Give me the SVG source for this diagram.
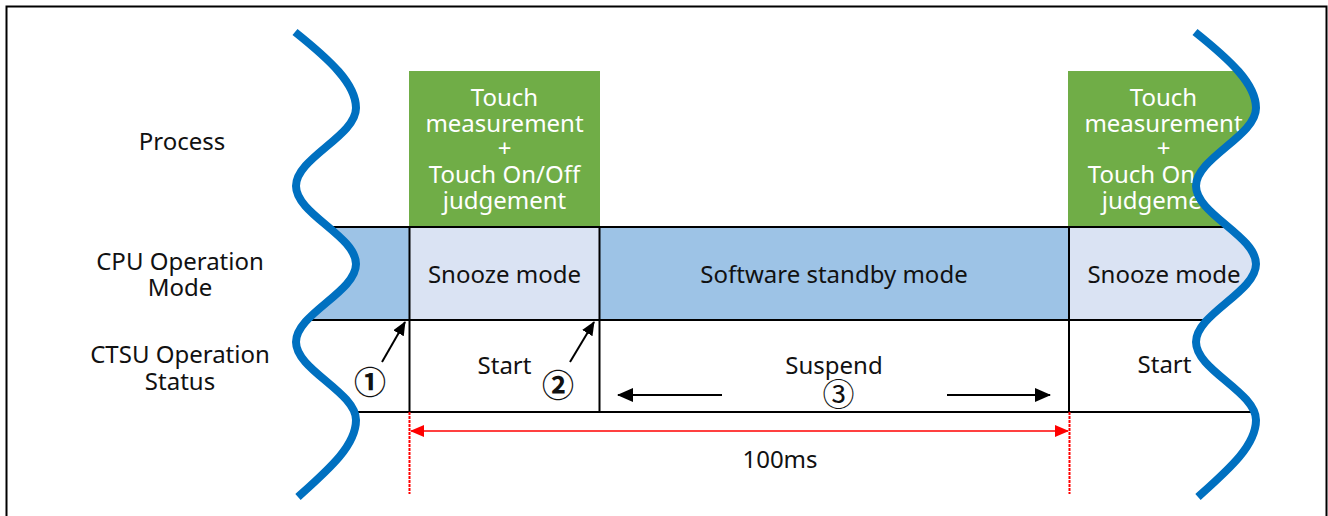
<svg xmlns="http://www.w3.org/2000/svg" width="1328" height="516" viewBox="0 0 1328 516">
  <style>
    text { font-family: "Noto Sans", "Noto Sans CJK JP", sans-serif; font-size: 24px; fill: #111; text-anchor: middle; }
    .wt { fill: #ffffff; }
    .num { font-family: "Noto Sans CJK JP", "Noto Sans", sans-serif; font-size: 32px; }
    .bold { font-weight: bold; }
    .grid { stroke: #000; stroke-width: 2; fill: none; }
    .arr { stroke: #000; stroke-width: 2; fill: none; }
    .dim { stroke: #ff0000; stroke-width: 1.3; fill: none; }
    .ext { stroke: #ff0000; stroke-width: 2; stroke-dasharray: 3 1; fill: none; }
    .wave { stroke: #0070c0; stroke-width: 8; fill: none; }
    .green { fill: #70ad47; }
    .standby { fill: #9dc3e6; }
    .snooze { fill: #dae3f3; }
  </style>
  <defs>
    <marker id="ah" markerUnits="userSpaceOnUse" markerWidth="14" markerHeight="12" refX="13" refY="6" orient="auto">
      <path d="M0,0 L14,6 L0,12 Z" fill="#000"/>
    </marker>
    <marker id="ahBig" markerUnits="userSpaceOnUse" markerWidth="16" markerHeight="14" refX="15" refY="7" orient="auto">
      <path d="M0,0 L16,7 L0,14 Z" fill="#000"/>
    </marker>
    <marker id="ahRed" markerUnits="userSpaceOnUse" markerWidth="14" markerHeight="12" refX="13" refY="6" orient="auto">
      <path d="M0,0 L14,6 L0,12 Z" fill="#ff0000"/>
    </marker>
    <!-- area to the right of the left break line -->
    <clipPath id="rightOfLeftBreak">
      <path d="M295,32 C330,60 356,84 356,108 C356,136 296,158 296,186 C296,214 356,236 356,264 C356,292 296,314 296,342 C296,370 356,392 356,420 C356,446 328,470 298,497 L298,516 L1328,516 L1328,0 L295,0 Z"/>
    </clipPath>
    <!-- area to the left of the right break line -->
    <clipPath id="leftOfRightBreak">
      <path d="M1195,32 C1230,60 1256,84 1256,108 C1256,136 1196,158 1196,186 C1196,214 1256,236 1256,264 C1256,292 1196,314 1196,342 C1196,370 1256,392 1256,420 C1256,446 1228,470 1198,497 L1198,516 L0,516 L0,0 L1195,0 Z"/>
    </clipPath>
  </defs>

  <rect width="1328" height="516" fill="#ffffff"/>
  <!-- outer frame -->
  <rect x="6.5" y="6.5" width="1320" height="530" fill="none" stroke="#000" stroke-width="2"/>

  <!-- row headings -->
  <g id="row-labels">
    <text x="182" y="150">Process</text>
    <text x="180" y="270">CPU Operation</text>
    <text x="180" y="296">Mode</text>
    <text x="180" y="363">CTSU Operation</text>
    <text x="180" y="390">Status</text>
  </g>

  <g clip-path="url(#rightOfLeftBreak)">
    <g clip-path="url(#leftOfRightBreak)">
      <!-- process row -->
      <g id="process-1">
        <rect class="green" x="409" y="71" width="191" height="156"/>
        <text class="wt" x="504.5" y="106">Touch</text>
        <text class="wt" x="504.5" y="131.5">measurement</text>
        <text class="wt" x="504.5" y="157">+</text>
        <text class="wt" x="504.5" y="183">Touch On/Off</text>
        <text class="wt" x="504.5" y="208.5">judgement</text>
      </g>
      <g id="process-2">
        <rect class="green" x="1068" y="71" width="191" height="156"/>
        <text class="wt" x="1163.5" y="106">Touch</text>
        <text class="wt" x="1163.5" y="131.5">measurement</text>
        <text class="wt" x="1163.5" y="157">+</text>
        <text class="wt" x="1163.5" y="183">Touch On/Off</text>
        <text class="wt" x="1163.5" y="208.5">judgement</text>
      </g>

      <!-- CPU operation mode row -->
      <g id="cpu-standby-0">
        <rect class="standby" x="250" y="227" width="159.5" height="93"/>
      </g>
      <g id="cpu-snooze-1">
        <rect class="snooze" x="409.5" y="227" width="190" height="93"/>
        <text x="504.5" y="283">Snooze mode</text>
      </g>
      <g id="cpu-standby-1">
        <rect class="standby" x="599.5" y="227" width="469.5" height="93"/>
        <text x="834" y="283">Software standby mode</text>
      </g>
      <g id="cpu-snooze-2">
        <rect class="snooze" x="1069" y="227" width="250" height="93"/>
        <text x="1164" y="283">Snooze mode</text>
      </g>

      <!-- CTSU operation status row -->
      <g id="ctsu-start-1">
        <text x="504.5" y="374">Start</text>
      </g>
      <g id="ctsu-suspend">
        <text x="834" y="374">Suspend</text>
        <text class="num" x="838.5" y="406">③</text>
      </g>
      <g id="ctsu-start-2">
        <text x="1164.5" y="373">Start</text>
      </g>

      <!-- cell borders -->
      <g id="grid">
        <path class="grid" d="M250,227 H1320 M250,320 H1320 M250,412 H1320 M409.5,227 V412 M599.5,227 V412 M1069,227 V412"/>
      </g>
    </g>
  </g>

  <!-- event markers -->
  <g id="event-1">
    <text class="num bold" x="370" y="393.5">①</text>
  </g>
  <g id="event-2">
    <text class="num bold" x="558" y="397">②</text>
  </g>

  <g id="connectors">
    <line class="arr" x1="382" y1="362" x2="405" y2="322" marker-end="url(#ah)"/>
    <line class="arr" x1="570" y1="362" x2="594" y2="322" marker-end="url(#ah)"/>
    <line class="arr" x1="722" y1="395" x2="618" y2="395" marker-end="url(#ahBig)"/>
    <line class="arr" x1="947" y1="395" x2="1050" y2="395" marker-end="url(#ahBig)"/>
    <!-- 100 ms interval dimension -->
    <line class="ext" x1="409.5" y1="412" x2="409.5" y2="494"/>
    <line class="ext" x1="1069.5" y1="412" x2="1069.5" y2="494"/>
    <line class="dim" x1="740" y1="431" x2="411" y2="431" marker-end="url(#ahRed)"/>
    <line class="dim" x1="740" y1="431" x2="1068" y2="431" marker-end="url(#ahRed)"/>
  </g>
  <g id="interval-label">
    <text x="780" y="468">100ms</text>
  </g>

  <!-- break lines -->
  <g id="breaks">
    <path class="wave" d="M295,32 C330,60 356,84 356,108 C356,136 296,158 296,186 C296,214 356,236 356,264 C356,292 296,314 296,342 C296,370 356,392 356,420 C356,446 328,470 298,497"/>
    <path class="wave" d="M1195,32 C1230,60 1256,84 1256,108 C1256,136 1196,158 1196,186 C1196,214 1256,236 1256,264 C1256,292 1196,314 1196,342 C1196,370 1256,392 1256,420 C1256,446 1228,470 1198,497"/>
  </g>
</svg>
